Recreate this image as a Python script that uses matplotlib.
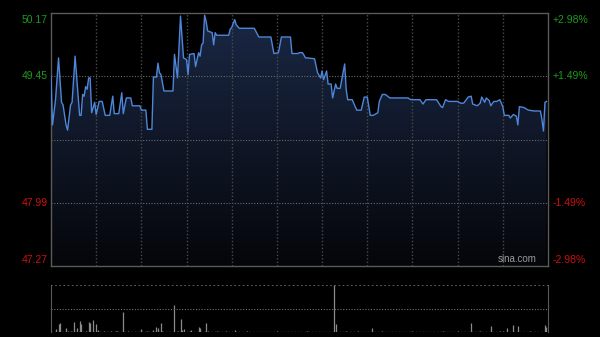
import numpy as np
import matplotlib
matplotlib.use("Agg")
import matplotlib.pyplot as plt
from matplotlib.colors import LinearSegmentedColormap

plt.rcParams['font.family'] = ['Liberation Sans', 'DejaVu Sans']

# ---- data ----
prev_close = 48.72
y_min, y_max = 47.27, 50.17
left_labels = ["50.17", "49.45", "47.99", "47.27"]
left_values = [50.17, 49.45, 47.99, 47.27]
right_labels = ["+2.98%", "+1.49%", "-1.49%", "-2.98%"]

minutes = [0, 1, 3, 5, 7, 8, 10, 11, 13, 14, 16, 19, 20, 21, 22, 23, 24, 25, 26, 27,
           29, 30, 32, 34, 36, 39, 41, 42, 45, 47, 48, 50, 53, 54, 59, 60, 63, 64, 67, 68,
           70, 71, 72, 73, 75, 81, 82, 84, 86, 88, 90, 91, 92, 95, 96, 98, 99, 100, 101, 102,
           103, 104, 107, 108, 109, 110, 118, 119, 120, 122, 123, 125, 135, 138, 146, 148, 151, 153, 159, 160,
           164, 165, 167, 169, 170, 175, 177, 179, 180, 181, 183, 184, 186, 187, 189, 190, 192, 195, 196, 197,
           200, 203, 206, 208, 210, 212, 214, 217, 218, 220, 222, 225, 237, 239, 245, 247, 249, 256, 259, 260,
           262, 264, 270, 272, 274, 277, 279, 280, 283, 285, 286, 288, 289, 291, 292, 294, 296, 298, 300, 301,
           304, 305, 307, 309, 310, 311, 314, 317, 321, 325, 326, 327, 328, 329]
prices = [49.45, 48.89, 49.18, 49.66, 49.15, 49.12, 48.89, 48.83, 49.12, 49.15, 49.68, 49.00, 49.00, 49.24, 49.22, 49.33, 49.30, 49.43, 49.43, 49.03,
          49.15, 49.01, 49.16, 49.16, 49.00, 49.00, 49.22, 49.02, 49.02, 49.26, 49.02, 49.20, 49.20, 49.11, 49.11, 49.06, 49.06, 48.84, 48.84, 49.44,
          49.44, 49.60, 49.49, 49.47, 49.28, 49.28, 49.70, 49.43, 50.14, 49.66, 49.64, 49.47, 49.70, 49.71, 49.56, 49.72, 49.68, 49.81, 49.83, 50.15,
          50.08, 49.97, 49.95, 49.81, 49.95, 49.92, 49.92, 49.99, 50.01, 50.10, 50.04, 50.00, 50.00, 49.90, 49.90, 49.71, 49.72, 49.90, 49.90, 49.71,
          49.71, 49.72, 49.72, 49.66, 49.66, 49.65, 49.49, 49.43, 49.51, 49.41, 49.51, 49.36, 49.36, 49.20, 49.36, 49.31, 49.31, 49.59, 49.30, 49.18,
          49.18, 49.06, 49.06, 49.21, 49.21, 49.00, 49.00, 49.03, 49.16, 49.24, 49.24, 49.20, 49.20, 49.18, 49.18, 49.13, 49.18, 49.18, 49.10, 49.09,
          49.18, 49.16, 49.16, 49.14, 49.14, 49.21, 49.22, 49.13, 49.11, 49.14, 49.21, 49.15, 49.20, 49.17, 49.11, 49.16, 49.16, 49.18, 49.10, 49.00,
          49.00, 48.97, 49.01, 48.99, 48.89, 49.10, 49.09, 49.06, 49.05, 49.05, 48.95, 48.82, 49.15, 49.16]

vol_minutes = [3, 5, 6, 10, 11, 13, 15, 17, 19, 20, 23, 25, 26, 28, 30, 31, 35, 40, 43, 44,
               48, 51, 60, 64, 68, 70, 71, 73, 74, 82, 84, 86, 87, 88, 92, 93, 98, 99, 103, 104,
               110, 116, 122, 130, 140, 150, 160, 170, 180, 188, 189, 196, 204, 213, 220, 230, 240, 250, 260, 270,
               279, 285, 292, 298, 300, 303, 307, 310, 318, 328, 329]
volumes = [10, 25, 27, 13, 5, 5, 30, 12, 33, 25, 5, 30, 27, 38, 25, 7, 5, 3, 5, 3,
           60, 3, 10, 5, 7, 15, 12, 27, 5, 80, 5, 40, 7, 10, 5, 7, 17, 12, 29, 5,
           3, 3, 7, 3, 2, 3, 2, 3, 2, 140, 25, 5, 5, 12, 3, 2, 3, 2, 5, 3,
           28, 3, 20, 5, 5, 13, 22, 20, 3, 22, 15]

total_minutes = 330
grid_step = 30

# ---- figure ----
fig = plt.figure(figsize=(6.0, 3.37), dpi=100, facecolor="black")
ax = fig.add_axes([0.085, 0.2107, 0.8283, 0.7493])
ax.set_facecolor("black")
ax.set_xlim(0, total_minutes)
ax.set_ylim(y_min, y_max)

# gradient fill under line
cmap = LinearSegmentedColormap.from_list("g", ["#05060a", "#1a2845"])
grad = np.linspace(0, 1, 256).reshape(-1, 1)
poly = ax.fill_between(minutes, prices, y_min, color="none", lw=0)
img = ax.imshow(grad, cmap=cmap, aspect="auto", origin="lower",
                extent=[0, total_minutes, y_min, y_max], zorder=1)
clip = poly.get_paths()[0]
img.set_clip_path(clip, transform=ax.transData)

# grid
for v in [49.45, prev_close, 47.99]:
    ax.axhline(v, color="#6a6a6a", lw=0.8, ls=(0, (1, 1.5)), zorder=2)
for t in range(grid_step, total_minutes, grid_step):
    ax.axvline(t, color="#4a4a4a", lw=1.0, ls=(0, (1, 1.5)), zorder=2)

ax.plot(minutes, prices, color="#4e86d8", lw=1.0, zorder=3)

for s in ax.spines.values():
    s.set_color("#5a5a5a")
    s.set_linewidth(1.0)
ax.set_xticks([])
ax.set_yticks([])

# labels
colors = ["#1c9a1c", "#1c9a1c", "#cc1010", "#cc1010"]
vas = ["top", "center", "center", "bottom"]
for lab, rlab, v, c, va in zip(left_labels, right_labels, left_values, colors, vas):
    off = {"top": -1, "center": 0, "bottom": 1}[va]
    ax.annotate(lab, xy=(0, v), xycoords=("axes fraction", "data"), xytext=(-2.5, off),
                textcoords="offset points", ha="right", va=va, color=c, fontsize=7.5)
    ax.annotate(rlab, xy=(1, v), xycoords=("axes fraction", "data"), xytext=(3.5, off),
                textcoords="offset points", ha="left", va=va, color=c, fontsize=7.5)

ax.text(0.978, 0.008, "sina.com", transform=ax.transAxes, ha="right", va="bottom",
        color="#9a9a9a", fontsize=7, zorder=4)

# volume
vax = fig.add_axes([0.085, 0.0134, 0.8283, 0.1409])
vax.set_facecolor("black")
vax.set_xlim(0, total_minutes)
vax.set_ylim(0, max(volumes))
vax.vlines(vol_minutes, 0, volumes, color="#8a8a8a", lw=0.9)
vax.axhline(max(volumes) * 0.5, color="#707070", lw=0.8, ls=(0, (1, 1.5)))
vax.axhline(max(volumes), color="#707070", lw=1.2, ls=(0, (1, 1.5)))
vax.axhline(0, color="#707070", lw=1.0, ls=(0, (1, 1.5)))
for k in ["top", "bottom"]:
    vax.spines[k].set_visible(False)
for k in ["left", "right"]:
    vax.spines[k].set_color("#5a5a5a")
vax.set_xticks([])
vax.set_yticks([])

fig.savefig("out.png", dpi=100, facecolor="black")
